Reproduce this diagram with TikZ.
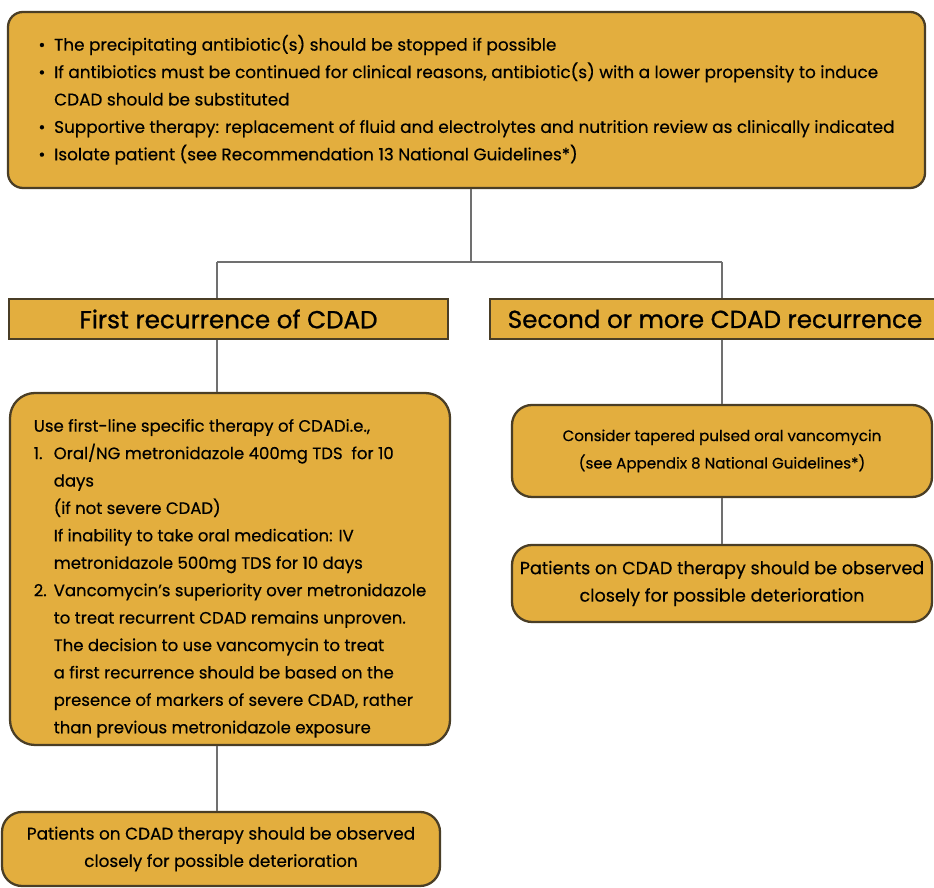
\documentclass[tikz,border=0pt]{standalone}
\usepackage{fontspec}
\setmainfont[FakeBold=0.4]{Poppins}
\usetikzlibrary{positioning}
\definecolor{boxfill}{RGB}{227,174,62}
\definecolor{boxedge}{RGB}{74,62,38}
\definecolor{linkgray}{RGB}{112,112,112}
\newcommand{\bodyfont}[1]{\fontsize{#1}{15.6}\selectfont}
\newcommand{\headfont}{\fontsize{14}{16}\selectfont\addfontfeature{FakeBold=0.9}}

\begin{document}
\begin{tikzpicture}[roundbox/.style={rectangle,rounded corners=0.4cm,draw=boxedge,line width=1.3pt,fill=boxfill,inner sep=0pt},headbox/.style={rectangle,draw=boxedge,line width=1.3pt,fill=boxfill,inner sep=0pt,font=\headfont},link/.style={draw=linkgray,line width=0.9pt}]
	\useasboundingbox (0,0) rectangle (18.68,17.76);

	\coordinate (j) at (9.42,12.52);
	\coordinate (jl) at (4.34,12.52);
	\coordinate (jr) at (14.44,12.52);

	\node [roundbox, rounded corners=0.3cm, minimum width=18.34cm, minimum height=3.52cm, font=\bodyfont{9.6}] (0) at (9.33, 15.76) {%
		\begin{tabular}{@{}l@{\hspace{5pt}}l@{}}
		\textbullet & The precipitating antibiotic(s) should be stopped if possible\\
		\textbullet & If antibiotics must be continued for clinical reasons, antibiotic(s) with a lower propensity to induce\\
		& CDAD should be substituted\\
		\textbullet & Supportive therapy: replacement of fluid and electrolytes and nutrition review as clinically indicated\\
		\textbullet & Isolate patient (see Recommendation 13 National Guidelines*)
		\end{tabular}};
	\node [headbox, minimum width=8.78cm, minimum height=0.8cm] (1) at (4.57, 11.38) {First recurrence of CDAD};
	\node [headbox, minimum width=9.0cm, minimum height=0.8cm] (2) at (14.3, 11.38) {Second or more CDAD recurrence};
	\node [roundbox, rounded corners=0.5cm, minimum width=8.8cm, minimum height=7.04cm, font=\bodyfont{9.4}] (3) at (4.6, 6.38) {%
		\raisebox{-0.16cm}[\height][\depth]{\begin{tabular}{@{}l@{\hspace{4pt}}l@{}}
		\multicolumn{2}{@{}l@{}}{Use first-line specific therapy of CDADi.e.,}\\
		1. & Oral/NG metronidazole 400mg TDS\ \ for 10\\
		& days\\
		& (if not severe CDAD)\\
		& If inability to take oral medication: IV\\
		& metronidazole 500mg TDS for 10 days\\
		2. & Vancomycin's superiority over metronidazole\\
		& to treat recurrent CDAD remains unproven.\\
		& The decision to use vancomycin to treat\\
		& a first recurrence should be based on the\\
		& presence of markers of severe CDAD, rather\\
		& than previous metronidazole exposure
		\end{tabular}}};
	\node [roundbox, minimum width=8.76cm, minimum height=1.48cm, align=center, font=\bodyfont{9.6}] (4) at (4.42, 0.78) {Patients on CDAD therapy should be observed\\closely for possible deterioration};
	\node [roundbox, minimum width=8.4cm, minimum height=1.84cm, align=center, font=\bodyfont{8.6}] (5) at (14.44, 8.74) {Consider tapered pulsed oral vancomycin\\(see Appendix 8 National Guidelines*)};
	\node [roundbox, minimum width=8.4cm, minimum height=1.54cm, align=center, font=\bodyfont{10}] (6) at (14.44, 6.09) {Patients on CDAD therapy should be observed\\closely for possible deterioration};

	\draw [link] (0.south -| j) to (j);
	\draw [link] (jl) to (jr);
	\draw [link] (jl) to (jl |- 1.north);
	\draw [link] (jl |- 1.south) to (jl |- 3.north);
	\draw [link] (jl |- 3.south) to (jl |- 4.north);
	\draw [link] (jr) to (jr |- 2.north);
	\draw [link] (jr |- 2.south) to (jr |- 5.north);
	\draw [link] (jr |- 5.south) to (jr |- 6.north);
\end{tikzpicture}
\end{document}
